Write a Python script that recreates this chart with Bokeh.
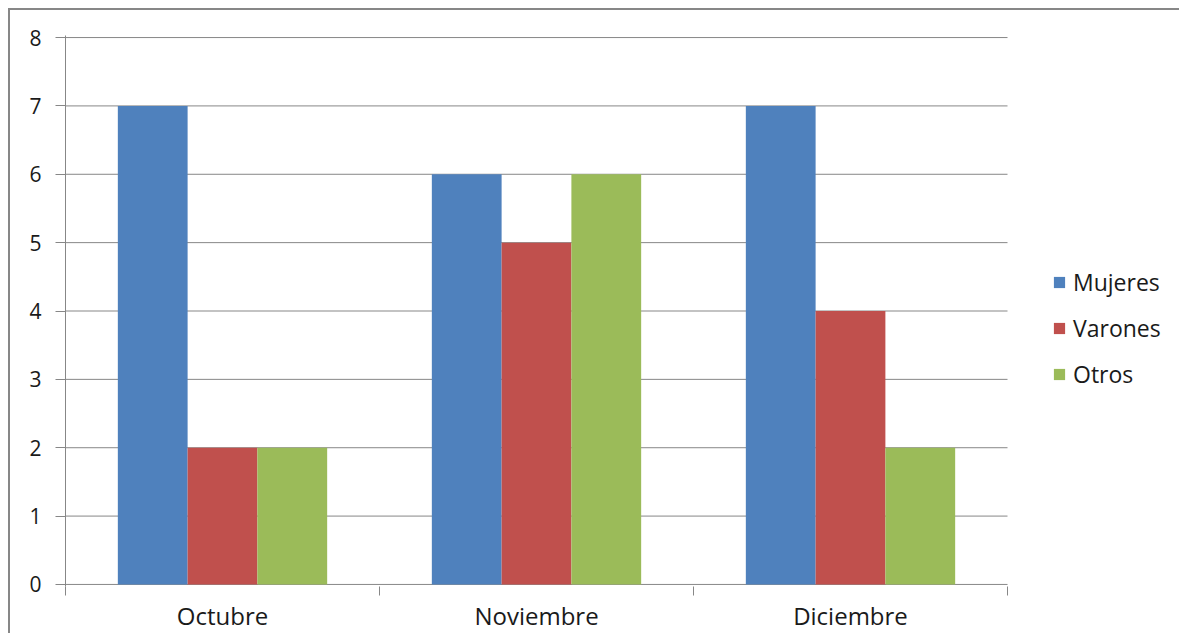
from bokeh.plotting import figure
from bokeh.models import ColumnDataSource, FixedTicker, Range1d, Legend, LegendItem
from bokeh.transform import dodge
from bokeh.embed import file_html
from bokeh.resources import INLINE

categories = ["Octubre", "Noviembre", "Diciembre"]
mujeres = [7, 6, 7]
varones = [2, 5, 4]
otros = [2, 6, 2]
series_names = ["Mujeres", "Varones", "Otros"]
colors = ["#4F81BD", "#C0504D", "#9BBB59"]
y_ticks = [0, 1, 2, 3, 4, 5, 6, 7, 8]

n = len(categories)
xpos = [i + 0.5 for i in range(n)]
src = ColumnDataSource(dict(x=xpos, Mujeres=mujeres, Varones=varones, Otros=otros))
grid_src = ColumnDataSource(dict(x0=[0] * len(y_ticks), x1=[n] * len(y_ticks), y=y_ticks))

W, H = 1171, 625
LEFT, TOP, BOTTOM = 55, 25, 49
frame_w = W - LEFT          # frame reaches the canvas' right edge (legend lives in it)
plot_w = 942                # pixel width that the three categories take
pad = 0.03
p = figure(width=W, height=H, output_backend="svg", toolbar_location=None,
           x_range=Range1d(0, n * frame_w / plot_w), y_range=Range1d(-pad, 8 + pad),
           min_border_left=LEFT, min_border_top=TOP,
           min_border_right=0, min_border_bottom=BOTTOM)
p.styles = {"margin-top": "8px", "margin-left": "8px",
            "border-top": "2px solid #878787", "border-left": "2px solid #878787"}
p.outline_line_color = None
p.background_fill_color = "white"
p.border_fill_color = "white"

# horizontal gridlines over the category area only
p.segment(x0="x0", x1="x1", y0="y", y1="y", source=grid_src,
          line_color="#878787", line_width=1)

bw = 1 / 4.5
offsets = [-bw, 0, bw]
items = []
for name, col, off in zip(series_names, colors, offsets):
    r = p.vbar(x=dodge("x", off), top=name, width=bw, source=src,
               fill_color=col, line_color=None)
    items.append(LegendItem(label=name, renderers=[r]))

legend = Legend(items=items, location=(987, 196), padding=0, margin=0,
                border_line_color=None, background_fill_alpha=0,
                glyph_width=14, glyph_height=14, label_height=30, spacing=14,
                label_standoff=7, label_text_font="Open Sans",
                label_text_font_size="23px", label_text_color="#1a1a1a")
p.add_layout(legend, "center")

# x axis
p.xaxis.ticker = FixedTicker(ticks=xpos, minor_ticks=list(range(n + 1)))
p.xaxis.major_label_overrides = {x: c for x, c in zip(xpos, categories)}
p.xaxis.major_tick_out = 0
p.xaxis.major_tick_in = 0
p.xaxis.minor_tick_out = 9
p.xaxis.minor_tick_in = 0
p.xaxis.minor_tick_line_color = "#878787"
p.xaxis.axis_line_color = None
p.xaxis.major_label_text_font = "Open Sans"
p.xaxis.major_label_text_font_size = "24px"
p.xaxis.major_label_text_color = "#1a1a1a"
p.xaxis.major_label_standoff = 3

# y axis
p.yaxis.ticker = FixedTicker(ticks=y_ticks)
p.yaxis.major_tick_out = 10
p.yaxis.major_tick_in = 0
p.yaxis.minor_tick_line_color = None
p.yaxis.major_tick_line_color = "#878787"
p.yaxis.axis_line_color = "#878787"
p.yaxis.major_label_text_font = "Open Sans"
p.yaxis.major_label_text_font_size = "21px"
p.yaxis.major_label_text_color = "#1a1a1a"
p.yaxis.major_label_standoff = 14

p.xgrid.grid_line_color = None
p.ygrid.grid_line_color = None

open("out.html", "w").write(file_html(p, INLINE))
